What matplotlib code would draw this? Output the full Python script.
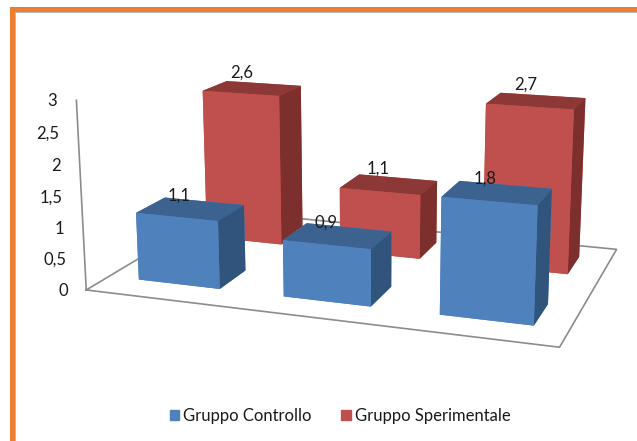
#!/usr/bin/env python

import matplotlib.pyplot as plt
from matplotlib.patches import Rectangle, Patch
from mpl_toolkits.mplot3d import proj3d

plt.rcParams['font.family'] = ['Lato', 'DejaVu Sans']

controllo = [1.1, 0.9, 1.8]
sperimentale = [2.6, 1.1, 2.7]
zticks = [0, 0.5, 1, 1.5, 2, 2.5, 3]
zlabels = ['0', '0,5', '1', '1,5', '2', '2,5', '3']
names = ['Gruppo Controllo', 'Gruppo Sperimentale']

# bottom, top, front, back, left, right
blue = ['#4F81BD', '#3C6390', '#4F81BD', '#4F81BD', '#4F81BD', '#30547C']
red = ['#C0504D', '#8C3836', '#C0504D', '#C0504D', '#C0504D', '#7D2F2D']

W, H = 637, 441
fig = plt.figure(figsize=(W / 100, H / 100), dpi=100)

# orange frame, only top and left
fig.add_artist(Rectangle((15 / W, 0), 1 / W, 429 / H, color='#B4BCC0', lw=0))
fig.add_artist(Rectangle((15 / W, 428 / H), 622 / W, 1 / H, color='#B4BCC0', lw=0))
fig.add_artist(Rectangle((10 / W, 0), 5 / W, 434 / H, color='#ED7D31', lw=0))
fig.add_artist(Rectangle((10 / W, 429 / H), 627 / W, 5 / H, color='#ED7D31', lw=0))

# view numbers come from a fit to the corners of the bars
ax = fig.add_axes([0.1016, -0.0844, 0.9204, 0.9204 * W / H], projection='3d', computed_zorder=False)
ax.set_proj_type('persp', focal_length=0.4396)
ax.view_init(elev=14.2552, azim=-70.847)
ax.set_xlim(0, 3)
ax.set_ylim(0, 2)
ax.set_zlim(0, 3.118)
ax.set_box_aspect((3, 2.1027, 1.2539))
ax.set_axis_off()


def label(x, y, z, s, **kw):
    xs, ys, _ = proj3d.proj_transform(x, y, z, ax.get_proj())
    ax.text2D(xs, ys, s, transform=ax.transData, va='center', fontsize=12, color='#1A1A1A', zorder=10, **kw)


grey = '#8C8C8C'
fx0, fx1, fy0, fy1 = -0.02, 2.97, 0.1, 1.95
ax.plot([fx0, fx1, fx1, fx0, fx0], [fy0, fy0, fy1, fy1, fy0], [0, 0, 0, 0, 0], color=grey, lw=1.2, zorder=1)
ax.plot([fx0, fx0], [fy0, fy0], [0, 3], color=grey, lw=1.2, zorder=1)

for z, lab in zip(zticks, zlabels):
    label(-0.12, 0.05, z, lab, ha='right')

bw = 0.5677
bd = 0.3749
xoff = -0.0238
for row, vals, cols, zo, lift in [(1.5215, sperimentale, red, 2, 0.26), (0.5644, controllo, blue, 4, 0.2)]:
    for i, v in enumerate(vals):
        cx = i + 0.5 + xoff
        ax.bar3d(cx - bw / 2, row - bd / 2, 0, bw, bd, v, color=cols, shade=False,
                 zorder=zo + i * 0.1, linewidth=0)
        label(cx - 0.075, row, v + lift, str(v).replace('.', ','), ha='center')

fig.legend(handles=[Patch(color='#4F81BD', label=names[0]), Patch(color='#C0504D', label=names[1])],
           loc='center', bbox_to_anchor=(340 / W, 1 - 416 / H), ncol=2, frameon=False, fontsize=12,
           handlelength=0.55, handleheight=0.55, handletextpad=0.25, columnspacing=1.8,
           labelcolor='#1A1A1A')

fig.savefig('out.png', dpi=100)
